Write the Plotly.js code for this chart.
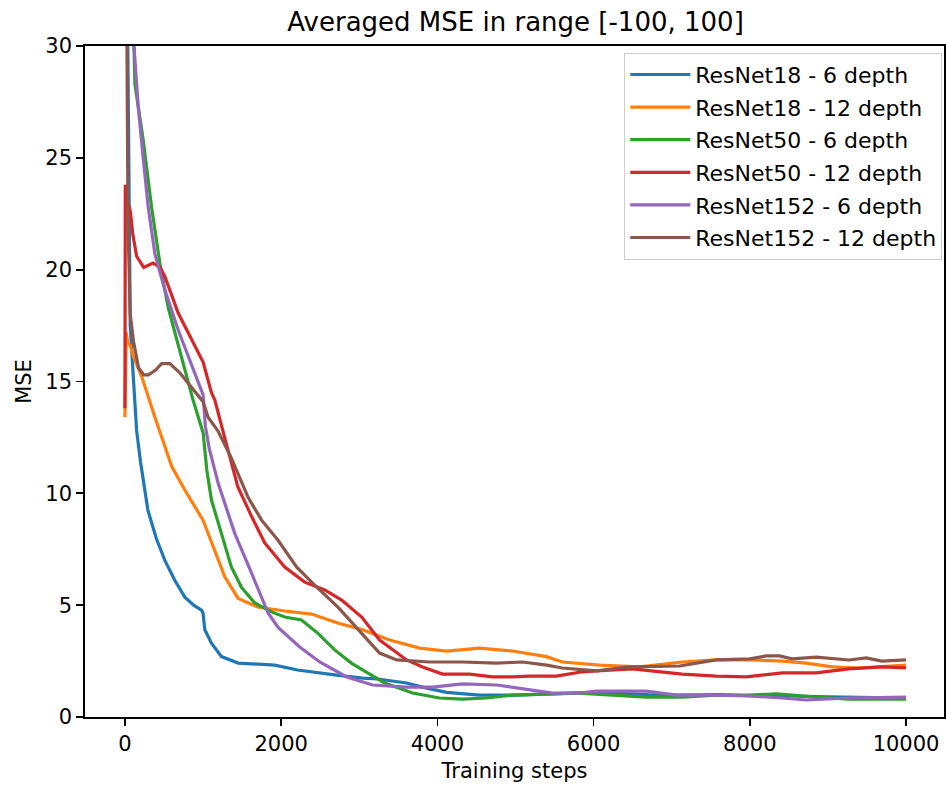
<!DOCTYPE html>
<html>
<head>
<meta charset="utf-8">
<script src="https://cdn.plot.ly/plotly-3.0.1.min.js"></script>
<style>html,body{margin:0;padding:0;background:#fff;}#chart{width:946px;height:787px;}</style>
</head>
<body>
<div id="chart"></div>
<script>
// Series names
const seriesNames = ["ResNet18 - 6 depth", "ResNet18 - 12 depth", "ResNet50 - 6 depth",
                     "ResNet50 - 12 depth", "ResNet152 - 6 depth", "ResNet152 - 12 depth"];
const seriesColors = ["#1f77b4", "#ff7f0e", "#2ca02c", "#d62728", "#9467bd", "#8c564b"];

// ResNet18 - 6 depth
const r18d6_x = [0,25,40,68,111,150,200,294,400,511,640,767,880,980,1000,1023,1108,1236,1450,1700,1918,2210,2404,2685,3043,3235,3606,3850,4118,4540,5000,5396,5800,6240,6700,7100,7600,8000,8400,9000,9500,10000];
const r18d6_y = [45,35,25,17.5,15.0,12.8,11.4,9.25,8.0,7.0,6.1,5.36,5.0,4.78,4.65,3.9,3.3,2.7,2.41,2.36,2.32,2.1,2.0,1.88,1.74,1.7,1.52,1.3,1.1,0.98,0.98,1.03,1.08,1.07,1.0,0.98,1.0,0.95,0.95,0.9,0.88,0.85];

// ResNet18 - 12 depth
const r18d12_x = [0,15,40,70,100,217,384,473,600,767,900,985,1000,1110,1280,1450,1700,2046,2390,2724,3043,3389,3772,4118,4540,4962,5396,5601,6074,6586,7136,7570,7992,8414,8721,9054,9399,10000];
const r18d12_y = [13.4,17.2,16.7,16.6,16.2,15.2,13.4,12.5,11.2,10.15,9.4,8.95,8.8,7.8,6.26,5.3,4.92,4.74,4.6,4.2,3.9,3.44,3.08,2.95,3.08,2.95,2.7,2.46,2.32,2.24,2.46,2.55,2.55,2.5,2.41,2.24,2.19,2.32];

// ResNet50 - 6 depth
const r50d6_x = [0,60,128,234,341,447,554,725,870,1001,1050,1108,1236,1364,1492,1662,1876,2046,2260,2468,2686,2899,3107,3325,3683,4028,4322,4629,4962,5396,5818,6240,6675,7136,7570,7992,8337,8849,9271,10000];
const r50d6_y = [50,38,28.3,25.8,22.8,20.3,18.3,16.1,14.2,12.7,11.0,9.7,8.2,6.7,5.8,5.1,4.7,4.47,4.34,3.75,3.0,2.41,1.97,1.52,1.07,0.85,0.8,0.85,0.98,1.03,1.07,0.98,0.89,0.89,0.98,0.98,1.03,0.89,0.8,0.8];

// ResNet50 - 12 depth
const r50d12_x = [0,5,40,70,100,150,240,360,450,511,682,852,1001,1108,1151,1279,1445,1624,1790,2046,2302,2558,2775,3031,3261,3606,3811,4066,4412,4706,4962,5179,5524,5818,6036,6496,7136,7570,7954,8414,8849,9271,9693,10000];
const r50d12_y = [13.8,23.8,23.0,22.6,21.6,20.6,20.1,20.3,20.1,19.7,18.06,16.85,15.87,14.5,14.17,12.47,10.3,8.95,7.78,6.7,6.03,5.68,5.23,4.47,3.44,2.55,2.24,1.92,1.92,1.79,1.79,1.83,1.83,2.0,2.06,2.15,1.92,1.83,1.79,1.97,1.97,2.15,2.24,2.2];

// ResNet152 - 6 depth
const r152d6_x = [0,50,110,170,234,298,384,511,682,852,1001,1030,1080,1193,1407,1620,1833,1961,2238,2494,2839,3171,3606,3939,4322,4757,5141,5473,5818,6036,6675,7059,7570,7992,8414,8721,9271,10000];
const r152d6_y = [50,38,30.3,27.3,25.0,22.8,20.7,19.1,17.3,15.8,14.4,13.0,12.0,10.46,8.2,6.44,4.65,4.0,3.13,2.46,1.79,1.43,1.34,1.34,1.48,1.43,1.25,1.07,1.07,1.16,1.16,0.98,0.98,0.94,0.85,0.76,0.85,0.89];

// ResNet152 - 12 depth
const r152d12_x = [0,20,40,68,110,175,240,300,390,470,575,700,850,1000,1065,1190,1360,1580,1750,1960,2200,2400,2730,3030,3260,3480,3900,4320,4760,5090,5400,5600,6040,6460,7100,7570,8000,8210,8380,8540,8850,9270,9490,9690,10000];
const r152d12_y = [45,30,22,18.0,16.8,15.6,15.3,15.3,15.5,15.8,15.8,15.4,14.75,14.1,13.4,12.8,11.6,9.8,8.8,7.9,6.7,6.0,4.9,3.75,2.86,2.55,2.46,2.46,2.41,2.46,2.32,2.19,2.06,2.24,2.28,2.55,2.6,2.73,2.73,2.6,2.68,2.55,2.64,2.5,2.55];

const xTickVals = [0,2000,4000,6000,8000,10000];
const yTickVals = [0,5,10,15,20,25,30];

const xs = [r18d6_x, r18d12_x, r50d6_x, r50d12_x, r152d6_x, r152d12_x];
const ys = [r18d6_y, r18d12_y, r50d6_y, r50d12_y, r152d6_y, r152d12_y];

const font = "DejaVu Sans";
const traces = seriesNames.map((name, i) => ({
  x: xs[i], y: ys[i], name: name, type: "scatter", mode: "lines",
  line: {color: seriesColors[i], width: 3.2},
  legendgroup: "g" + i
}));

const axisCommon = {
  showgrid: false, zeroline: false, showline: true, linecolor: "#000", linewidth: 1.7,
  mirror: true, ticks: "outside", ticklen: 7, tickwidth: 1.7, tickcolor: "#000",
  tickfont: {family: font, size: 21, color: "#000"}
};

const layout = {
  width: 946, height: 787,
  margin: {l: 85, r: 2, t: 46, b: 70},
  paper_bgcolor: "#fff", plot_bgcolor: "#fff",
  title: {text: "Averaged MSE in range [-100, 100]", font: {family: font, size: 26, color: "#000"},
          x: 0.545, xanchor: "center", y: 0.972, yanchor: "middle"},
  xaxis: Object.assign({}, axisCommon, {
    range: [-511, 10486], tickvals: xTickVals, ticktext: xTickVals.map(String),
    title: {text: "Training steps", font: {family: font, size: 21, color: "#000"}, standoff: 8}
  }),
  yaxis: Object.assign({}, axisCommon, {
    range: [0, 30], tickvals: yTickVals, ticktext: yTickVals.map(String),
    title: {text: "MSE", font: {family: font, size: 21, color: "#000"}, standoff: 8}
  }),
  showlegend: true,
  legend: {
    x: 0.998, xanchor: "right", y: 0.99, yanchor: "top",
    bgcolor: "rgba(255,255,255,0.8)", bordercolor: "#cccccc", borderwidth: 1,
    font: {family: font, size: 22, color: "#000"},
    tracegroupgap: 1, itemwidth: 60
  }
};

Plotly.newPlot("chart", traces, layout, {displayModeBar: false, staticPlot: true});
</script>
</body>
</html>
